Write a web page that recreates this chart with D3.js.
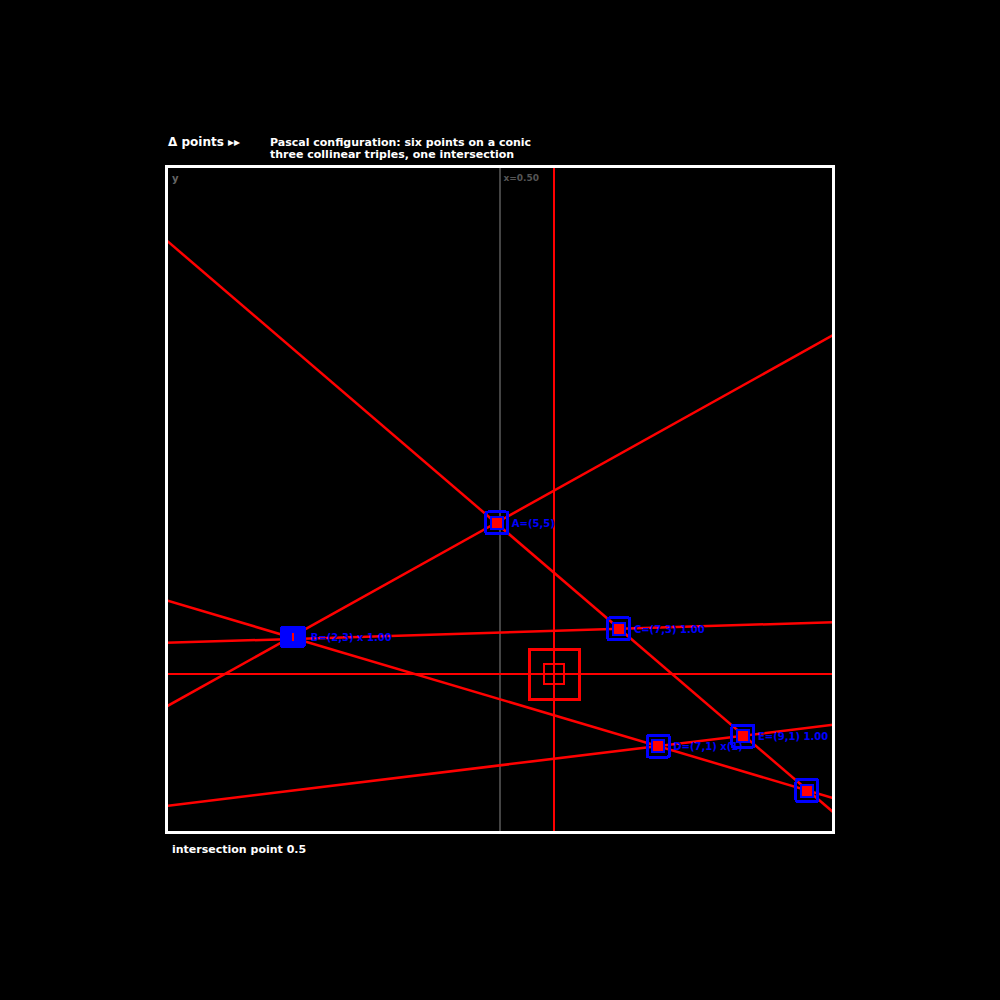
<!DOCTYPE html>
<html>
<head>
<meta charset="utf-8">
<script src="https://cdn.jsdelivr.net/npm/d3@7"></script>
<style>
  html, body { margin: 0; padding: 0; background: #000; }
  svg { display: block; }
  text { font-family: "DejaVu Sans", sans-serif; }
</style>
</head>
<body>
<svg id="chart" width="1000" height="1000"></svg>
<script>
// ---- data (domain units 0..100 on both axes) ----
const pointNames = ["P1", "P2", "P3", "P4", "P5", "P6"];
const pointX = [49.6, 19.0, 67.9, 73.8, 86.5, 96.1];
const pointY = [46.4, 29.3, 30.5, 12.9, 14.4, 6.2];
const pointLabels = ["A=(5,5)", "B=(2,3) x 1.00", "C=(7,3) 1.00", "D=(7,1) x(1)", "E=(9,1) 1.00", ""];
const pointFilled = [false, true, false, false, false, false];

// lines given by their value at the left (x=0) and right (x=100) edges
const lineLeftY  = [88.9, 18.8, 34.8, 28.4, 3.9];
const lineRightY = [3.0, 74.6, 5.1, 31.5, 16.1];

// crosshair target
const targetX = [58.2];
const targetY = [23.7];

// reference (gray) vertical line
const refX = [50];
const refLabel = ["x=0.50"];

const titleLead = "Δ points  ▸▸";
const titleLine1 = "Pascal configuration: six points on a conic";
const titleLine2 = "three collinear triples, one intersection";
const footText = "intersection point  0.5";
const cornerText = "y";

// ---- layout ----
const svg = d3.select("#chart");
const L = 166, R = 833, T = 166, B = 832;
const x = d3.scaleLinear().domain([0, 100]).range([L, R]);
const y = d3.scaleLinear().domain([0, 100]).range([B, T]);

svg.append("rect").attr("width", 1000).attr("height", 1000).attr("fill", "#000");

svg.append("clipPath").attr("id", "clip")
  .append("rect").attr("x", L).attr("y", T).attr("width", R - L).attr("height", B - T);
const g = svg.append("g").attr("clip-path", "url(#clip)").attr("shape-rendering", "crispEdges");

// gray reference line
g.selectAll(".ref").data(refX).join("line")
  .attr("x1", d => x(d)).attr("x2", d => x(d))
  .attr("y1", T).attr("y2", B)
  .attr("stroke", "#444").attr("stroke-width", 2);

// red lines
const lines = lineLeftY.map((ly, i) => ({ l: ly, r: lineRightY[i] }));
g.selectAll(".ln").data(lines).join("line")
  .attr("x1", x(0)).attr("x2", x(100))
  .attr("y1", d => y(d.l)).attr("y2", d => y(d.r))
  .attr("stroke", "#f00").attr("stroke-width", 2.5)
  .attr("shape-rendering", "auto");

// crosshair
targetX.forEach((tx, i) => {
  const ty = targetY[i];
  g.append("line").attr("x1", x(tx)).attr("x2", x(tx)).attr("y1", T).attr("y2", B)
    .attr("stroke", "#f00").attr("stroke-width", 2.5);
  g.append("line").attr("x1", L).attr("x2", R).attr("y1", y(ty)).attr("y2", y(ty))
    .attr("stroke", "#f00").attr("stroke-width", 2);
  g.append("rect").attr("x", x(tx) - 25).attr("y", y(ty) - 25).attr("width", 50).attr("height", 50)
    .attr("fill", "none").attr("stroke", "#f00").attr("stroke-width", 3);
  g.append("rect").attr("x", x(tx) - 10).attr("y", y(ty) - 10).attr("width", 20).attr("height", 20)
    .attr("fill", "none").attr("stroke", "#f00").attr("stroke-width", 2);
});

// points
const pts = pointX.map((px, i) => ({ x: px, y: pointY[i], label: pointLabels[i], filled: pointFilled[i] }));
const pg = g.selectAll(".pt").data(pts).join("g")
  .attr("transform", d => `translate(${x(d.x)},${y(d.y)})`);
pg.filter(d => d.filled).append("rect")
  .attr("x", -12).attr("y", -10).attr("width", 24).attr("height", 20).attr("rx", 2)
  .attr("fill", "#00f").attr("stroke", "#00f").attr("stroke-width", 2);
pg.filter(d => d.filled).append("line")
  .attr("x1", 0).attr("x2", 0).attr("y1", -4).attr("y2", 4)
  .attr("stroke", "#f00").attr("stroke-width", 2);
pg.filter(d => !d.filled).append("rect")
  .attr("x", -11).attr("y", -11).attr("width", 22).attr("height", 22).attr("rx", 2)
  .attr("fill", "none").attr("stroke", "#00f").attr("stroke-width", 3);
pg.filter(d => !d.filled).append("rect")
  .attr("x", -6).attr("y", -6).attr("width", 12).attr("height", 12)
  .attr("fill", "#f00").attr("stroke", "#00f").attr("stroke-width", 2);
pg.append("text")
  .attr("x", d => d.filled ? 18 : 15).attr("y", 4)
  .attr("fill", "#00f").attr("font-size", 10).attr("font-weight", "bold")
  .text(d => d.label);

// frame
svg.append("rect").attr("x", L).attr("y", T).attr("width", R - L).attr("height", B - T)
  .attr("fill", "none").attr("stroke", "#fff").attr("stroke-width", 3)
  .attr("shape-rendering", "crispEdges");

// ref label
svg.selectAll(".reflab").data(refX).join("text")
  .attr("x", d => x(d) + 4).attr("y", 181)
  .attr("fill", "#555").attr("font-size", 9).attr("font-weight", "bold")
  .text((d, i) => refLabel[i]);

svg.append("text").attr("x", 172).attr("y", 182).attr("fill", "#666")
  .attr("font-size", 10).attr("font-weight", "bold").text(cornerText);

// titles
svg.append("text").attr("x", 168).attr("y", 146).attr("fill", "#fff")
  .attr("font-size", 12).attr("font-weight", "bold").text(titleLead);
svg.append("text").attr("x", 270).attr("y", 146).attr("fill", "#fff")
  .attr("font-size", 11).attr("font-weight", "bold").text(titleLine1);
svg.append("text").attr("x", 270).attr("y", 158).attr("fill", "#fff")
  .attr("font-size", 11).attr("font-weight", "bold").text(titleLine2);

svg.append("text").attr("x", 172).attr("y", 853).attr("fill", "#fff")
  .attr("font-size", 11).attr("font-weight", "bold").text(footText);
</script>
</body>
</html>
